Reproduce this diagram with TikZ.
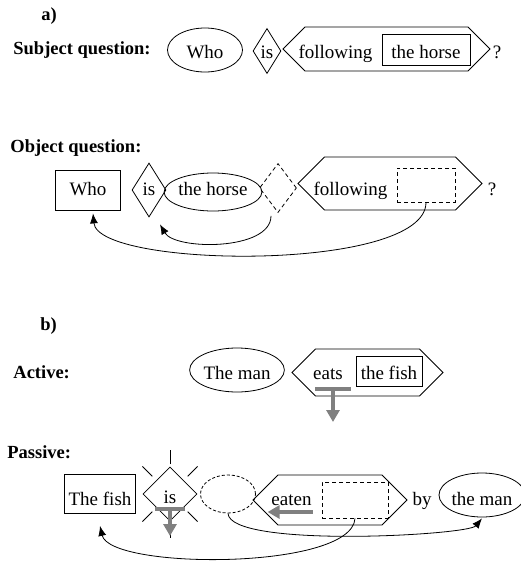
\documentclass[tikz,border=0pt]{standalone}
\usepackage{fontspec}
\setmainfont{Liberation Serif}
\usetikzlibrary{positioning, arrows.meta, shapes.geometric, shapes.symbols}

\tikzset{
  lbl/.style={font=\fontsize{18.5}{22}\selectfont\bfseries, anchor=base west, inner sep=0pt},
  wrd/.style={font=\fontsize{19}{22}\selectfont, inner sep=0pt},
  txt/.style={wrd, anchor=base},
  bl/.style={text height=#1, text depth=0pt},
  np/.style={draw, ellipse, inner sep=0pt},
  aux/.style={draw, diamond, inner sep=0pt},
  vp/.style={draw, signal, signal to=east and west, inner sep=0pt},
  obj/.style={draw, rectangle, inner sep=0pt},
  hueco/.style={dash pattern=on 4pt off 3pt},
  mov/.style={-{Latex[length=10pt,width=8pt]}},
  giro/.style={draw=gray, line width=4pt, {Bar[width=#1]}-{Triangle[width=13pt,length=12pt]}},
}

\begin{document}
\begin{tikzpicture}[x=1pt,y=-1pt,on grid,line width=0.8pt]
  \useasboundingbox (0,0) rectangle (521,568);

  %%% a) PREGUNTA DE SUJETO %%%
  \node[lbl] (ta)  at (41,20) {a)};
  \node[lbl] (suj) at (13,54) {Subject question:};
  \node[np,wrd,bl=16pt,minimum width=75pt,minimum height=44pt] (quien) at (205,50) {Who};
  \node[aux,wrd,bl=14pt,minimum width=28pt,minimum height=45pt] (es) at (267,51) {is};
  \node[vp,minimum width=207pt,minimum height=44pt] (sv) at (386.5,49) {};
  \node[txt] (sig) at (335.5,58) {following};
  \node[obj,wrd,bl=17pt,minimum width=88pt,minimum height=31pt] (caballo) at (426,49.5) {the horse};
  \node[txt] (preg) at (497,58) {?};

  %%% PREGUNTA DE OBJETO %%%
  \node[lbl] (obj) at (10,152) {Object question:};
  \node[obj,wrd,bl=10pt,minimum width=65pt,minimum height=40pt] (quienb) at (88,190) {Who};
  \node[aux,wrd,bl=10pt,minimum width=34pt,minimum height=54pt] (esb) [right=61pt of quienb] {is};
  \node[np,wrd,bl=7pt,minimum width=93pt,minimum height=38pt] (caballob) at (213,192) {the horse};
  \node[aux,hueco,minimum width=37pt,minimum height=49pt] (huecod) at (278,188) {};
  \node[vp,minimum width=184pt,minimum height=53pt] (svb) at (390,183.5) {};
  \node[txt] (sigb) at (350.5,195) {following};
  \node[obj,hueco,minimum width=58pt,minimum height=34pt] (huecor) at (426,185) {};
  \node[txt] (pregb) at (492,195) {?};

  % Movimientos
  \draw[mov] ([xshift=-7pt,yshift=-3pt]huecod.south) .. controls +(0,35) and +(15,26) .. ([xshift=11pt,yshift=-7pt]esb.south);
  \draw[mov] (huecor.south) .. controls +(0,70) and +(5,55) .. ([xshift=5pt,yshift=-3pt]quienb.south);

  %%% b) ACTIVA %%%
  \node[lbl] (tb)  at (40,330) {b)};
  \node[lbl] (act) at (13,378) {Active:};
  \node[np,wrd,bl=18pt,minimum width=91pt,minimum height=44pt] (hombre) at (237,370) {The man};
  \node[vp,minimum width=151pt,minimum height=47pt] (svc) at (367.5,372.5) {};
  \node[txt] (come) at (328,379) {eats};
  \node[obj,wrd,bl=16pt,minimum width=66pt,minimum height=30pt] (pez) at (389,371) {the fish};

  \draw[giro=36pt] ([xshift=5pt,yshift=-8pt]come.base) -- ++(0,35);

  %%% PASIVA %%%
  \node[lbl] (pas) at (7,458) {Passive:};
  \node[obj,wrd,bl=22pt,minimum width=71pt,minimum height=39pt] (pezp) at (100,494) {The fish};
  \node[aux,wrd,bl=18pt,minimum width=54pt,minimum height=54pt] (esp) [right=70pt of pezp] {is};
  \node[np,dash pattern=on 3pt off 2pt,minimum width=55pt,minimum height=38pt] (huecoe) at (228,494) {};
  \node[vp,minimum width=154pt,minimum height=50pt] (svp) at (330,500) {};
  \node[txt] (comido) at (291.5,505) {eaten};
  \node[obj,hueco,minimum width=66pt,minimum height=36pt] (huecop) at (355,500) {};
  \node[txt] (por) at (422,505) {by};
  \node[np,wrd,bl=20pt,minimum width=86pt,minimum height=44pt] (hombrep) at (482,495) {the man};

  % Destellos del auxiliar
  \foreach \a in {45,135,225,315}
    \draw (esp.center) ++(\a:25) -- ++(\a:14);
  \foreach \a in {90,270}
    \draw (esp.center) ++(\a:30) -- ++(\a:14);

  \draw[giro=30pt] ([yshift=-13pt]esp.center) -- ++(0,29);
  \draw[draw=gray,line width=4pt,-{Triangle[width=13pt,length=12pt]}] ([xshift=-9pt,yshift=-12pt]huecop.west) -- ++(-45,0);

  % Movimientos
  \draw[mov] (huecoe.south) .. controls +(2,35) and +(-14,17) .. ([yshift=-1pt]hombrep.south);
  \draw[mov] (huecop.south) .. controls +(-3,52) and +(10,44) .. ([yshift=-12pt]pezp.south);
\end{tikzpicture}
\end{document}
